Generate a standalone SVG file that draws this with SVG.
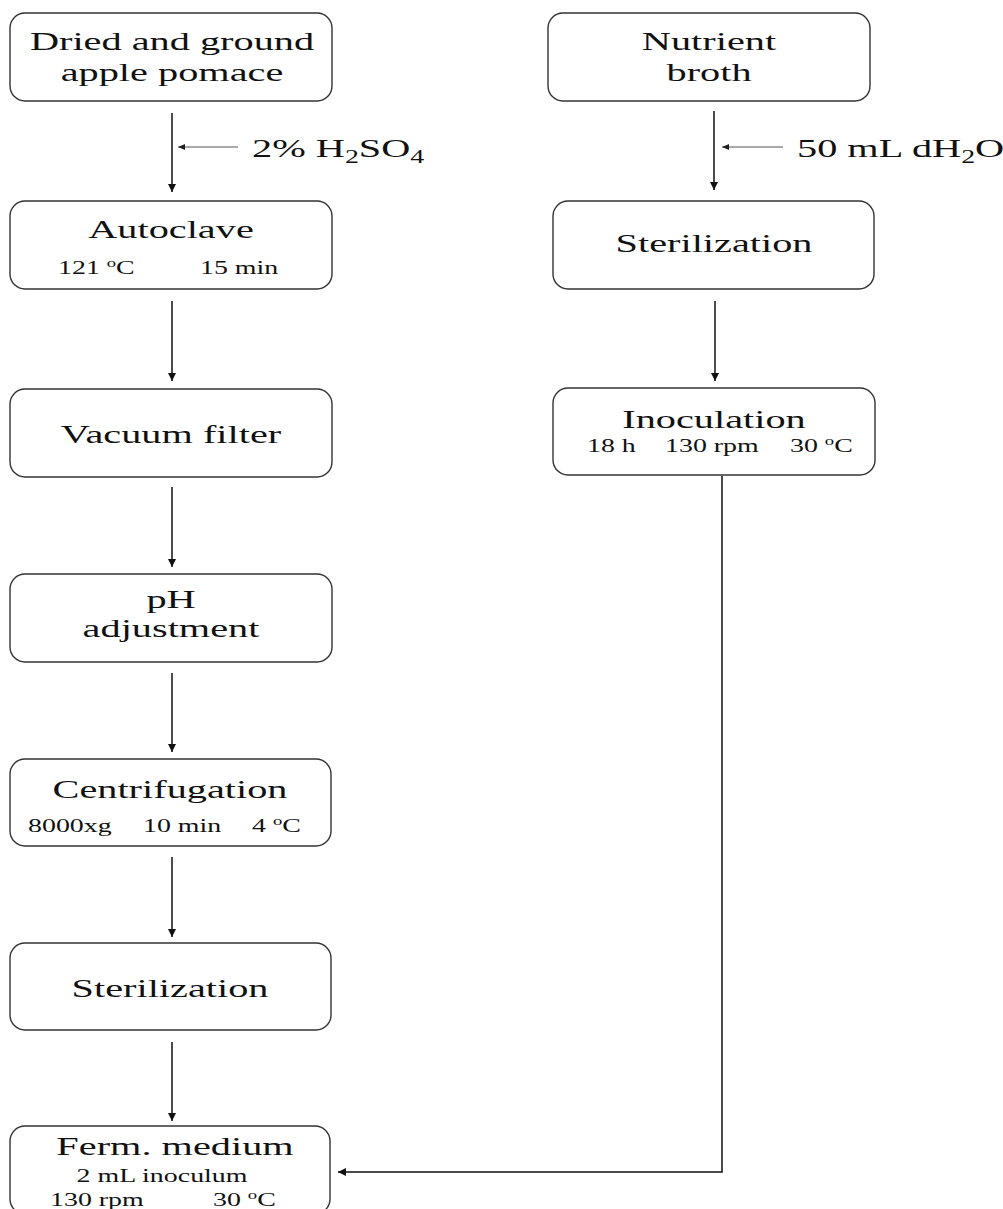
<svg xmlns="http://www.w3.org/2000/svg" width="1003" height="1209" viewBox="0 0 1003 1209">
<style>
.box{fill:#fff;stroke:#333;stroke-width:1.4}
.m{font-family:"Liberation Serif","Times New Roman",serif;font-size:26px;fill:#111}
.s{font-family:"Liberation Serif","Times New Roman",serif;font-size:18px;fill:#111}
.c{text-anchor:middle}
.ln{fill:none;stroke:#111;stroke-width:1.5}
.side{fill:none;stroke:#555;stroke-width:1}
</style>
<defs>
<marker id="ah" markerUnits="userSpaceOnUse" markerWidth="9" markerHeight="9" refX="8" refY="4.5" orient="auto">
<path d="M0,0.5 L8,4.5 L0,8.5 z" fill="#111"/>
</marker>
<marker id="ahs" markerUnits="userSpaceOnUse" markerWidth="8" markerHeight="8" refX="7" refY="3.5" orient="auto">
<path d="M0,0.5 L7,3.5 L0,6.5 z" fill="#222"/>
</marker>
</defs>
<rect width="1003" height="1209" fill="#fff"/>
<g id="connectors">
<line class="ln" x1="172" y1="113" x2="172" y2="192" marker-end="url(#ah)"/>
<line class="side" x1="238" y1="147" x2="178" y2="147" marker-end="url(#ahs)"/>
<line class="ln" x1="172" y1="301" x2="172" y2="381" marker-end="url(#ah)"/>
<line class="ln" x1="172" y1="487" x2="172" y2="567" marker-end="url(#ah)"/>
<line class="ln" x1="172" y1="673" x2="172" y2="752" marker-end="url(#ah)"/>
<line class="ln" x1="172" y1="857" x2="172" y2="937" marker-end="url(#ah)"/>
<line class="ln" x1="172" y1="1042" x2="172" y2="1121" marker-end="url(#ah)"/>
<line class="ln" x1="714" y1="111" x2="714" y2="190" marker-end="url(#ah)"/>
<line class="side" x1="783" y1="147" x2="722" y2="147" marker-end="url(#ahs)"/>
<line class="ln" x1="715" y1="301" x2="715" y2="381" marker-end="url(#ah)"/>
<polyline class="ln" points="722,476 722,1172 338,1172" marker-end="url(#ah)"/>
</g>
<g id="label-h2so4">
<text class="m" transform="matrix(1.55,0,0,1,252,157)">2% H<tspan font-size="18" dy="6">2</tspan><tspan dy="-6">SO</tspan><tspan font-size="18" dy="6">4</tspan></text>
</g>
<g id="label-dh2o">
<text class="m" transform="matrix(1.55,0,0,1,797,157)">50 mL dH<tspan font-size="18" dy="6">2</tspan><tspan dy="-6">O</tspan></text>
</g>
<g id="n-pomace">
<rect class="box" x="10" y="13" width="322" height="88" rx="15"/>
<text class="m c" transform="matrix(1.55,0,0,1,172,50)">Dried and ground</text>
<text class="m c" transform="matrix(1.55,0,0,1,172,81)">apple pomace</text>
</g>
<g id="n-autoclave">
<rect class="box" x="10" y="201" width="322" height="88" rx="15"/>
<text class="m c" transform="matrix(1.55,0,0,1,171,238)">Autoclave</text>
<text class="s" transform="matrix(1.55,0,0,1,58,274)">121 <tspan font-size="12" dy="-7">o</tspan><tspan dy="7">C</tspan></text>
<text class="s" transform="matrix(1.55,0,0,1,200,274)">15 min</text>
</g>
<g id="n-vacuum">
<rect class="box" x="10" y="389" width="322" height="88" rx="15"/>
<text class="m c" transform="matrix(1.55,0,0,1,171,443)">Vacuum filter</text>
</g>
<g id="n-ph">
<rect class="box" x="10" y="574" width="322" height="88" rx="15"/>
<text class="m c" transform="matrix(1.55,0,0,1,171,608)">pH</text>
<text class="m c" transform="matrix(1.55,0,0,1,171,637)">adjustment</text>
</g>
<g id="n-centrifugation">
<rect class="box" x="10" y="759" width="321" height="87" rx="15"/>
<text class="m c" transform="matrix(1.55,0,0,1,170,798)">Centrifugation</text>
<text class="s" transform="matrix(1.55,0,0,1,28,832)">8000xg</text>
<text class="s" transform="matrix(1.55,0,0,1,143,832)">10 min</text>
<text class="s" transform="matrix(1.55,0,0,1,252,832)">4 <tspan font-size="12" dy="-7">o</tspan><tspan dy="7">C</tspan></text>
</g>
<g id="n-sterilization-left">
<rect class="box" x="10" y="943" width="321" height="87" rx="15"/>
<text class="m c" transform="matrix(1.55,0,0,1,170,997)">Sterilization</text>
</g>
<g id="n-ferm">
<rect class="box" x="10" y="1126" width="320" height="88" rx="15"/>
<text class="m c" transform="matrix(1.55,0,0,1,175,1155)">Ferm. medium</text>
<text class="s c" transform="matrix(1.55,0,0,1,162,1182)">2 mL inoculum</text>
<text class="s" transform="matrix(1.55,0,0,1,50,1206)">130 rpm</text>
<text class="s" transform="matrix(1.55,0,0,1,213,1206)">30 <tspan font-size="12" dy="-7">o</tspan><tspan dy="7">C</tspan></text>
</g>
<g id="n-nutrient">
<rect class="box" x="548" y="13" width="322" height="88" rx="15"/>
<text class="m c" transform="matrix(1.55,0,0,1,709,50)">Nutrient</text>
<text class="m c" transform="matrix(1.55,0,0,1,709,81)">broth</text>
</g>
<g id="n-sterilization-right">
<rect class="box" x="553" y="201" width="321" height="88" rx="15"/>
<text class="m c" transform="matrix(1.55,0,0,1,714,252)">Sterilization</text>
</g>
<g id="n-inoculation">
<rect class="box" x="553" y="388" width="322" height="87" rx="15"/>
<text class="m c" transform="matrix(1.55,0,0,1,714,428)">Inoculation</text>
<text class="s" transform="matrix(1.55,0,0,1,587,452)">18 h</text>
<text class="s" transform="matrix(1.55,0,0,1,665,452)">130 rpm</text>
<text class="s" transform="matrix(1.55,0,0,1,790,452)">30 <tspan font-size="12" dy="-7">o</tspan><tspan dy="7">C</tspan></text>
</g>
</svg>
